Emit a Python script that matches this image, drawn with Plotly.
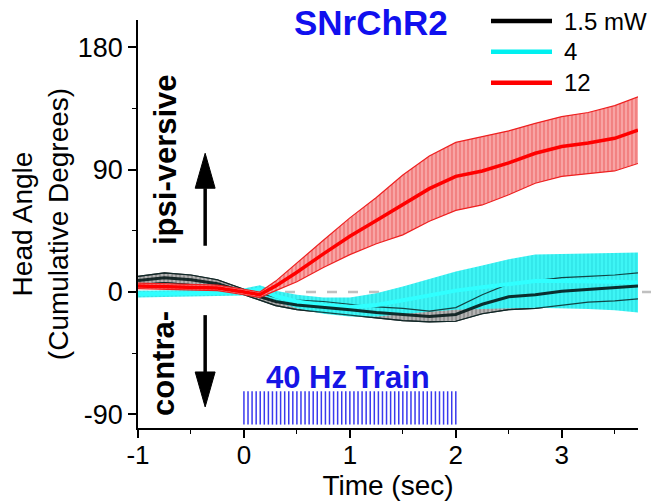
import plotly.graph_objects as go
import numpy as np

# ---- data ----
time_s = [-1, -0.75, -0.5, -0.25, 0, 0.15, 0.3, 0.5, 0.75, 1.0, 1.25, 1.5, 1.75,
          2.0, 2.25, 2.5, 2.75, 3.0, 3.25, 3.5, 3.72]

black_mean = [8.5, 10.5, 9, 6, 0, -3.5, -7, -9.5, -11, -13, -15, -16.5, -18,
              -16.5, -9, -3.5, -2, 0.5, 2, 3, 4.5]
black_sem = [3, 3.5, 3.5, 3, 2, 2.5, 3, 3.5, 4, 4, 4, 4.5, 4,
             5, 7, 9.5, 10, 10, 9.5, 9.5, 9.5]

cyan_mean = [-1.5, -1.5, -1, -0.5, 0, 2, -3, -7, -10, -11, -9.5, -6, -2.5,
             1, 3.5, 6, 8, 8, 8, 7.5, 7]
cyan_sem = [2.5, 2.5, 2.5, 2.5, 2.5, 3, 4, 5, 6, 7, 8.5, 10, 12,
            14, 16, 18, 19.5, 20, 20.5, 21, 22]

red_mean = [4.5, 4, 3.5, 3, 0, -2, 4.5, 14.5, 28, 41, 52.5, 64, 76,
            85, 89, 95, 102, 107, 109.5, 113, 119]
red_sem = [2, 2, 2, 2, 2, 2, 3.5, 7, 10, 13.5, 17, 22, 24,
           25, 25, 23.5, 22, 22, 22.5, 24, 24.5]

series_names = ["1.5 mW", "4", "12"]
train_start, train_end, n_pulses = 0.0, 2.0, 53
pulse_low, pulse_high = -97.5, -73

x_ticks = [-1, 0, 1, 2, 3]
y_ticks = [-90, 0, 90, 180]

FONT = "Liberation Sans, Arial, sans-serif"

fig = go.Figure()


def band(mean, sem, bg, fg):
    up = [m + s for m, s in zip(mean, sem)]
    lo = [m - s for m, s in zip(mean, sem)]
    fig.add_trace(go.Scatter(
        x=time_s + time_s[::-1], y=up + lo[::-1], mode="lines",
        fill="toself", fillcolor=bg,
        fillpattern=dict(shape="|", bgcolor=bg, fgcolor=fg, size=4, solidity=0.3),
        line=dict(width=0), showlegend=False, hoverinfo="skip"))
    return up, lo


def edges(up, lo, color):
    for arr in (up, lo):
        fig.add_trace(go.Scatter(x=time_s, y=arr, mode="lines",
                                 line=dict(color=color, width=1.2),
                                 showlegend=False, hoverinfo="skip"))


# black band (below cyan)
b_up, b_lo = band(black_mean, black_sem, "#b4b4b4", "#4a4a4a")
edges(b_up, b_lo, "#222222")
# cyan band
c_up, c_lo = band(cyan_mean, cyan_sem, "#3ef5f5", "#18c8d0")
# black edges and mean on top of cyan
edges(b_up, b_lo, "rgba(10,40,40,0.85)")
fig.add_trace(go.Scatter(x=time_s, y=cyan_mean, mode="lines",
                         line=dict(color="#30ffff", width=4),
                         showlegend=False, hoverinfo="skip"))
fig.add_trace(go.Scatter(x=time_s, y=black_mean, mode="lines",
                         line=dict(color="rgba(5,25,25,0.9)", width=3),
                         showlegend=False, hoverinfo="skip"))
# red
r_up, r_lo = band(red_mean, red_sem, "#f8a4a4", "#e53030")
edges(r_up, r_lo, "#ee2020")
fig.add_trace(go.Scatter(x=time_s, y=red_mean, mode="lines",
                         line=dict(color="#ff0000", width=3.5),
                         showlegend=False, hoverinfo="skip"))

# stimulus train
pulses = np.linspace(train_start, train_end, n_pulses)
px, py = [], []
for p in pulses:
    px += [p, p, None]
    py += [pulse_low, pulse_high, None]
fig.add_trace(go.Scatter(x=px, y=py, mode="lines",
                         line=dict(color="#3a3aee", width=1.5),
                         showlegend=False, hoverinfo="skip"))

# zero dashed line
fig.add_shape(type="line", xref="paper", yref="y", x0=0, x1=1.026, y0=0, y1=0,
              line=dict(color="#c0c0c0", width=2.5, dash="10px,11px"), layer="below")

# custom legend
leg_colors = ["black", "#00f0f0", "red"]
leg_y = [0.9975, 0.922, 0.846]
for name, col, ly in zip(series_names, leg_colors, leg_y):
    fig.add_shape(type="line", xref="paper", yref="paper", x0=0.706, x1=0.828,
                  y0=ly, y1=ly, line=dict(color=col, width=4.5))
    fig.add_annotation(xref="paper", yref="paper", x=0.848, y=ly, text=name,
                       showarrow=False, xanchor="left", yanchor="middle",
                       font=dict(family=FONT, size=24, color="black"))

# title
fig.add_annotation(xref="paper", yref="paper", x=0.466, y=(428 - 1) / 408,
                   text="<b>SNrChR2</b>",
                   showarrow=False, xanchor="center", yanchor="top",
                   font=dict(family=FONT, size=35, color="#1010ee"))
# train label
fig.add_annotation(xref="x", yref="y", x=0.98, y=-62.5, text="<b>40 Hz Train</b>",
                   showarrow=False, xanchor="center", yanchor="middle",
                   font=dict(family=FONT, size=31, color="#1515e6"))
# direction labels
fig.add_annotation(xref="paper", yref="paper", x=(165 - 138) / 500, y=(428 - 160) / 408,
                   text="<b>ipsi-versive</b>", textangle=-90, showarrow=False,
                   xanchor="center", yanchor="middle",
                   font=dict(family=FONT, size=31, color="black"))
fig.add_annotation(xref="paper", yref="paper", x=(163 - 138) / 500, y=(428 - 364) / 408,
                   text="<b>contra-</b>", textangle=-90, showarrow=False,
                   xanchor="center", yanchor="middle",
                   font=dict(family=FONT, size=31, color="black"))

# arrows (shaft + long narrow head, in data coordinates)
arrow_x = -0.366
head_half_w = 0.094
head_len = 25.7
for tail, tip in [(34, 102), (-17, -84.5)]:
    sgn = 1 if tip > tail else -1
    base = tip - sgn * head_len
    fig.add_shape(type="line", xref="x", yref="y", x0=arrow_x, x1=arrow_x,
                  y0=tail, y1=base, line=dict(color="black", width=3.5))
    fig.add_shape(type="path", xref="x", yref="y",
                  path=f"M {arrow_x - head_half_w} {base} L {arrow_x + head_half_w} {base} "
                       f"L {arrow_x} {tip} Z",
                  fillcolor="black", line=dict(color="black", width=1))

fig.update_layout(
    width=656, height=503,
    margin=dict(l=138, r=18, t=20, b=75),
    paper_bgcolor="white", plot_bgcolor="white",
    showlegend=False,
    font=dict(family=FONT, color="black"),
    xaxis=dict(range=[-1, 3.72], tickvals=x_ticks, ticktext=[str(v) for v in x_ticks],
               showline=True, linecolor="black", linewidth=1.5,
               ticks="outside", ticklen=8, tickwidth=1.5, tickcolor="black",
               minor=dict(dtick=0.5, tick0=0, ticks="outside", ticklen=4,
                          tickwidth=1.3, tickcolor="black"),
               showgrid=False, zeroline=False,
               tickfont=dict(size=26, family=FONT), ticklabelstandoff=-5,
               title=dict(text="Time (sec)", font=dict(size=28, family=FONT), standoff=6),
               automargin=False),
    yaxis=dict(range=[-100, 200], tickvals=y_ticks, ticktext=[str(v) for v in y_ticks],
               showline=True, linecolor="black", linewidth=1.5,
               ticks="outside", ticklen=8, tickwidth=1.5, tickcolor="black",
               minor=dict(dtick=45, tick0=0, ticks="outside", ticklen=4,
                          tickwidth=1.3, tickcolor="black"),
               showgrid=False, zeroline=False,
               tickfont=dict(size=27, family=FONT),
               title=dict(text="Head Angle<br>(Cumulative Degrees)",
                          font=dict(size=28, family=FONT), standoff=1),
               automargin=False),
)

fig.write_html("out.html", config={"displayModeBar": False},
               post_script="document.body.style.margin='0';document.body.style.overflow='hidden';")
